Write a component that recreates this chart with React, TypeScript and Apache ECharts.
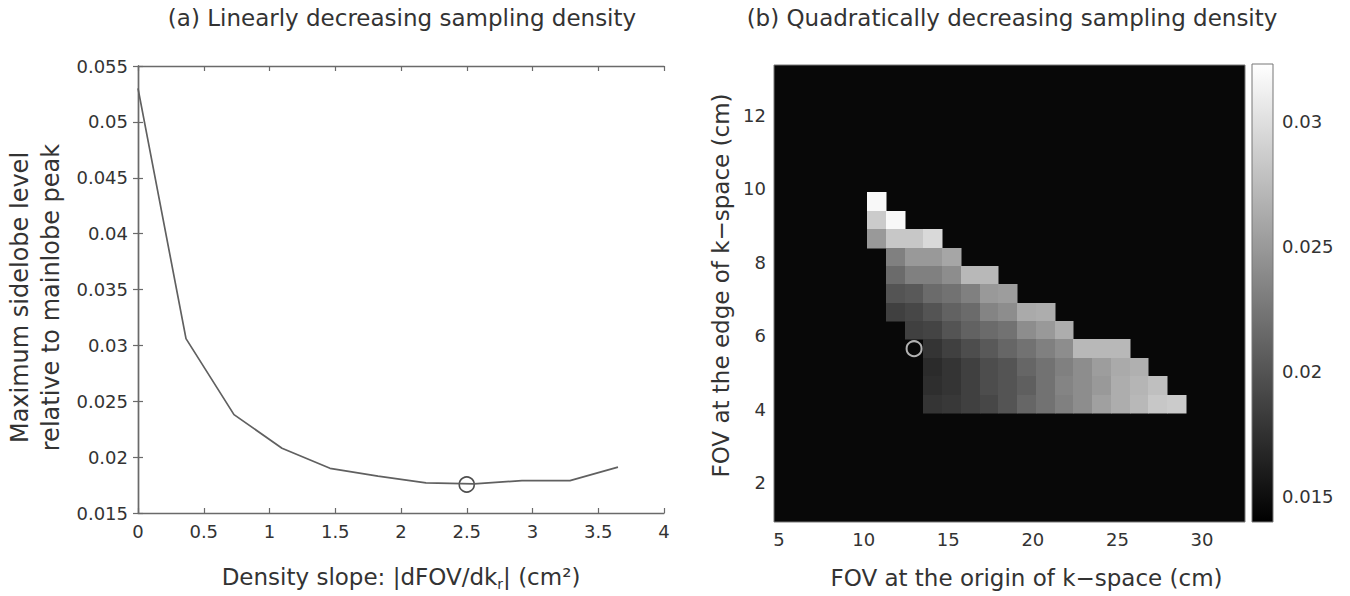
import React, { useEffect, useRef } from 'react';
import * as echarts from 'echarts';

// ---------- (a) Linearly decreasing sampling density ----------
const slopeX = [0, 0.365, 0.73, 1.095, 1.46, 1.825, 2.19, 2.555, 2.92, 3.285, 3.65];
const sidelobeY = [0.053, 0.0306, 0.0238, 0.0208, 0.019, 0.0183, 0.0177, 0.0176, 0.0179, 0.0179, 0.0191];
const optimumA = [2.5, 0.01755];
const xTicksA = [0, 4];
const yTicksA = [0.015, 0.055];

// ---------- (b) Quadratically decreasing sampling density ----------
const fovOrigin = [10.77, 11.88, 12.98, 14.09, 15.2, 16.31, 17.41, 18.52, 19.63, 20.73, 21.84, 22.95, 24.05, 25.16, 26.27, 27.37, 28.48];
const fovEdge = [9.65, 9.15, 8.65, 8.15, 7.65, 7.15, 6.65, 6.15, 5.65, 5.15, 4.65, 4.15];
const rowStart = [0, 0, 0, 1, 1, 1, 1, 2, 3, 3, 3, 3];
const rowValues: number[][] = [
  [0.0318],
  [0.0286, 0.0318],
  [0.025, 0.0283, 0.0283, 0.0296],
  [0.0232, 0.025, 0.025, 0.0259],
  [0.0217, 0.0232, 0.0232, 0.0241, 0.0272, 0.0272],
  [0.02, 0.0204, 0.0217, 0.0222, 0.0232, 0.025, 0.0253],
  [0.0186, 0.0191, 0.02, 0.021, 0.0217, 0.0235, 0.0241, 0.0262, 0.0264],
  [0.0186, 0.0189, 0.02, 0.021, 0.0217, 0.0222, 0.0241, 0.025, 0.0264],
  [0.0177, 0.0186, 0.0195, 0.0204, 0.0213, 0.0222, 0.0232, 0.0241, 0.0272, 0.0272, 0.0272],
  [0.0171, 0.0177, 0.0186, 0.0195, 0.02, 0.0213, 0.0222, 0.0232, 0.0241, 0.0253, 0.0262, 0.0266],
  [0.0173, 0.0177, 0.0186, 0.0195, 0.02, 0.0208, 0.0222, 0.0235, 0.0241, 0.025, 0.0264, 0.027, 0.0277],
  [0.0177, 0.018, 0.0186, 0.0191, 0.02, 0.0213, 0.0222, 0.0232, 0.0241, 0.0255, 0.0264, 0.0272, 0.0283, 0.0286],
];
const cellW = 1.107;
const cellH = 0.5;
const optimumB = [12.98, 5.65];
const xRangeB = [4.7, 32.54];
const yRangeB = [0.94, 13.36];
const xTicksB = [5, 10, 15, 20, 25, 30];
const yTicksB = [2, 4, 6, 8, 10, 12];
const colorRange = [0.014, 0.0323];
const colorTicks = [0.015, 0.02, 0.025, 0.03];

const FONT = 'DejaVu Sans';
const TXT = '#333333';
const AX = '#6a6a6a';

export default function App() {
  const ref = useRef<HTMLDivElement>(null);

  useEffect(() => {
    if (!ref.current) return;
    const chart = echarts.init(ref.current, null, { renderer: 'svg' });

    const lineData = slopeX.map((x, i) => [x, sidelobeY[i]]);
    const heatData: number[][] = [];
    rowValues.forEach((vals, r) => {
      vals.forEach((v, j) => {
        heatData.push([fovOrigin[rowStart[r] + j], fovEdge[r], v]);
      });
    });

    const tickLabel = { fontFamily: FONT, fontSize: 18, color: TXT };
    const axLine = { show: true, lineStyle: { color: AX, width: 1.4 } };
    const inTick = { show: true, inside: true, length: 5, lineStyle: { color: AX, width: 1.2 } };

    const option: any = {
      animation: false,
      textStyle: { fontFamily: FONT },
      title: [
        {
          text: '(a) Linearly decreasing sampling density',
          left: 402,
          top: 6,
          padding: 0,
          textAlign: 'center',
          textStyle: { fontFamily: FONT, fontSize: 23, fontWeight: 'normal', color: TXT },
        },
        {
          text: '(b) Quadratically decreasing sampling density',
          left: 1012,
          top: 6,
          padding: 0,
          textAlign: 'center',
          textStyle: { fontFamily: FONT, fontSize: 23, fontWeight: 'normal', color: TXT },
        },
      ],
      grid: [
        { left: 138, top: 66, width: 526, height: 451, show: false },
        { left: 774, top: 65, width: 471, height: 457, show: true, backgroundColor: '#080808', borderColor: '#777', borderWidth: 1 },
        { left: 1252, top: 64, width: 21, height: 458, show: false },
      ],
      xAxis: [
        {
          gridIndex: 0, type: 'value', min: xTicksA[0], max: xTicksA[1], interval: 0.5,
          axisLine: axLine, axisTick: inTick, splitLine: { show: false },
          axisLabel: { ...tickLabel, margin: 9 },
          name: 'Density slope: |dFOV/dk{sub|r}| (cm²)',
          nameLocation: 'middle', nameGap: 50,
          nameTextStyle: {
            fontFamily: FONT, fontSize: 23, color: TXT, lineHeight: 28,
            rich: { sub: { fontFamily: FONT, fontSize: 14, color: TXT, verticalAlign: 'bottom', lineHeight: 28 } },
          },
        },
        {
          gridIndex: 0, type: 'value', position: 'top', min: xTicksA[0], max: xTicksA[1], interval: 0.5,
          axisLine: axLine, axisTick: inTick, axisLabel: { show: false }, splitLine: { show: false },
        },
        {
          gridIndex: 1, type: 'value', min: xRangeB[0], max: xRangeB[1],
          axisLine: { show: false }, axisTick: { show: false }, splitLine: { show: false },
          axisLabel: { ...tickLabel, margin: 8, customValues: xTicksB },
          name: 'FOV at the origin of k−space (cm)',
          nameLocation: 'middle', nameGap: 44,
          nameTextStyle: { fontFamily: FONT, fontSize: 23, color: TXT, padding: [0, 0, 0, 34] },
        },
        { gridIndex: 2, type: 'value', min: 0, max: 1, show: false },
      ],
      yAxis: [
        {
          gridIndex: 0, type: 'value', min: yTicksA[0], max: yTicksA[1], interval: 0.005,
          axisLine: axLine, axisTick: inTick, splitLine: { show: false },
          axisLabel: { ...tickLabel, margin: 10 },
          name: 'Maximum sidelobe level\nrelative to mainlobe peak',
          nameLocation: 'middle', nameGap: 72, nameRotate: 90,
          nameTextStyle: { fontFamily: FONT, fontSize: 24, color: TXT, lineHeight: 31, padding: [0, 16, 0, 0] },
        },
        {
          gridIndex: 0, type: 'value', position: 'right', min: yTicksA[0], max: yTicksA[1], interval: 0.005,
          axisLine: axLine, axisTick: inTick, axisLabel: { show: false }, splitLine: { show: false },
        },
        {
          gridIndex: 1, type: 'value', min: yRangeB[0], max: yRangeB[1],
          axisLine: { show: false }, axisTick: { show: false }, splitLine: { show: false },
          axisLabel: { ...tickLabel, margin: 8, customValues: yTicksB },
          name: 'FOV at the edge of k−space (cm)',
          nameLocation: 'middle', nameGap: 42, nameRotate: 90,
          nameTextStyle: { fontFamily: FONT, fontSize: 23, color: TXT, padding: [0, 0, 0, 16] },
        },
        {
          gridIndex: 2, type: 'value', position: 'right', min: colorRange[0], max: colorRange[1],
          axisLine: { show: false }, axisTick: { show: false }, splitLine: { show: false },
          axisLabel: { ...tickLabel, margin: 9, customValues: colorTicks },
        },
      ],
      visualMap: {
        type: 'continuous', show: false, seriesIndex: 2, dimension: 2,
        min: colorRange[0], max: colorRange[1],
        inRange: { color: ['#000000', '#ffffff'] },
      },
      series: [
        {
          type: 'line', xAxisIndex: 0, yAxisIndex: 0, data: lineData,
          showSymbol: false, symbol: 'none',
          lineStyle: { color: '#606060', width: 1.7 },
        },
        {
          type: 'scatter', xAxisIndex: 0, yAxisIndex: 0, data: [optimumA],
          symbol: 'circle', symbolSize: 15,
          itemStyle: { color: 'rgba(0,0,0,0)', borderColor: '#222', borderWidth: 1.6 },
        },
        {
          type: 'custom', xAxisIndex: 2, yAxisIndex: 2, data: heatData,
          encode: { x: 0, y: 1 },
          renderItem: (params: any, api: any) => {
            const x = api.value(0);
            const y = api.value(1);
            const a = api.coord([x - cellW / 2, y + cellH / 2]);
            const b = api.coord([x + cellW / 2, y - cellH / 2]);
            const x0 = Math.round(a[0]);
            const y0 = Math.round(a[1]);
            const x1 = Math.round(b[0]);
            const y1 = Math.round(b[1]);
            const c = api.visual('color');
            return {
              type: 'rect',
              shape: { x: x0, y: y0, width: x1 - x0 + 0.5, height: y1 - y0 + 0.5 },
              style: { fill: c },
            };
          },
        },
        {
          type: 'scatter', xAxisIndex: 2, yAxisIndex: 2, data: [optimumB],
          symbol: 'circle', symbolSize: 15,
          itemStyle: { color: 'rgba(0,0,0,0)', borderColor: '#dddddd', borderWidth: 2 },
        },
        {
          type: 'custom', xAxisIndex: 3, yAxisIndex: 3,
          data: [[0, colorRange[0], 1, colorRange[1]]],
          encode: { x: [0, 2], y: [1, 3] },
          renderItem: (params: any, api: any) => {
            const a = api.coord([api.value(0), api.value(3)]);
            const b = api.coord([api.value(2), api.value(1)]);
            return {
              type: 'rect',
              shape: { x: a[0], y: a[1], width: b[0] - a[0], height: b[1] - a[1] },
              style: {
                fill: new echarts.graphic.LinearGradient(0, 0, 0, 1, [
                  { offset: 0, color: '#ffffff' },
                  { offset: 1, color: '#000000' },
                ]),
                stroke: '#777',
                lineWidth: 1,
              },
            };
          },
        },
      ],
    };

    chart.setOption(option);
    return () => chart.dispose();
  }, []);

  return (
    <div
      ref={ref}
      style={{ position: 'fixed', left: 0, top: 0, width: 1350, height: 596, background: '#ffffff' }}
    />
  );
}
